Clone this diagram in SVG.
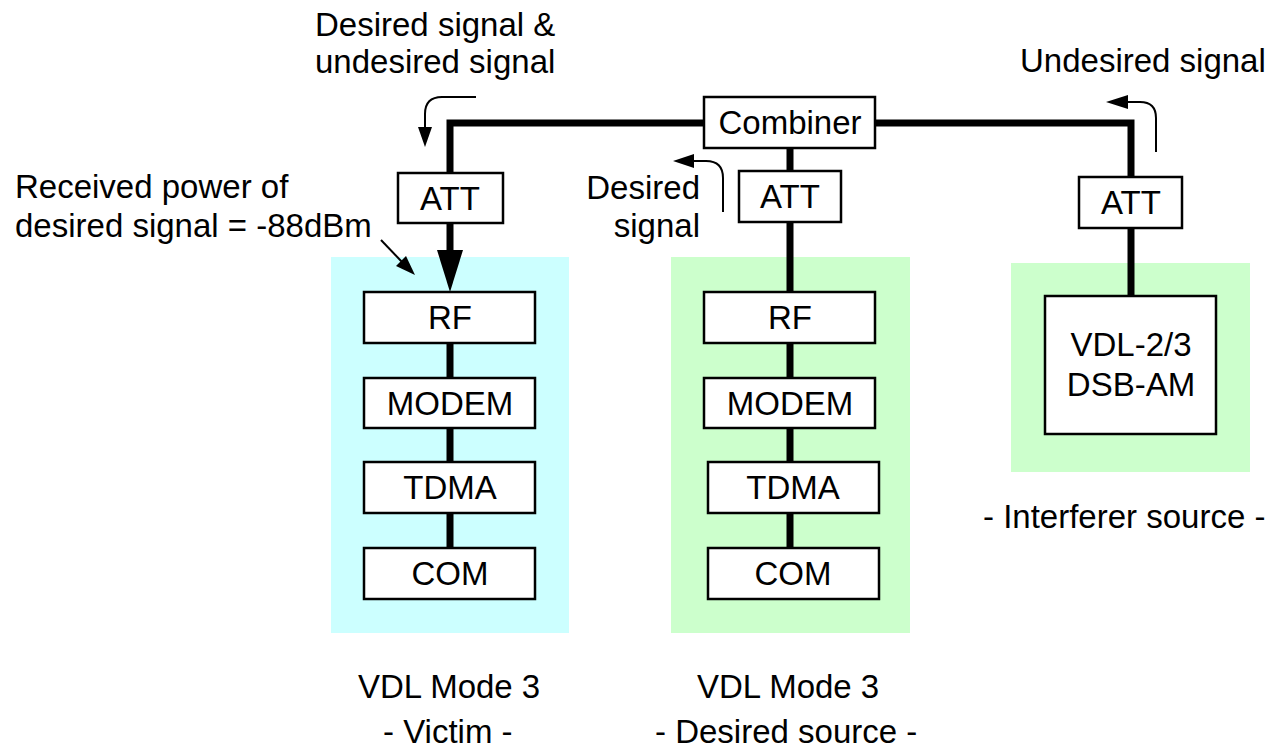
<svg xmlns="http://www.w3.org/2000/svg" width="1277" height="750" viewBox="0 0 1277 750">
<style>
text{font-family:"Liberation Sans",Arial,sans-serif;fill:#000;font-size:33px}
.box{text-anchor:middle}
.bx{fill:#fff;stroke:#000;stroke-width:2.5}
.wire{fill:none;stroke:#000;stroke-width:7;stroke-linejoin:miter}
.thin{fill:none;stroke:#000;stroke-width:2}
</style>
<rect width="1277" height="750" fill="#fff"/>
<g id="panels">
<rect x="331" y="257" width="238" height="376" fill="#CCFFFF"/>
<rect x="671" y="257" width="239" height="376" fill="#CCFFCC"/>
<rect x="1011" y="263" width="239" height="209" fill="#CCFFCC"/>
</g>
<g id="connectors">
<path class="wire" d="M450,173 V123 H1131 V177"/>
<path class="wire" d="M790,148 V292"/>
<path class="wire" d="M450,223 V252"/>
<polygon points="437,250 463,250 450,292" fill="#000"/>
<path class="wire" d="M450,343 V378 M450,428 V462 M450,513 V548"/>
<path class="wire" d="M790,343 V378 M790,428 V462 M790,513 V548"/>
<path class="wire" d="M1131,228 V296"/>
<path class="thin" d="M476,97 H442 Q425,97 425,114 V128"/>
<polygon points="418,127 432,127 425,147" fill="#000"/>
<path class="thin" d="M723,212 V178 Q723,161 706,161 H692"/>
<polygon points="694,154 694,168 673,161" fill="#000"/>
<path class="thin" d="M1156,152 V118 Q1156,102 1140,102 H1126"/>
<polygon points="1128,95 1128,109 1106,102" fill="#000"/>
<path class="thin" d="M381,240 L403,263"/>
<polygon points="396,266 406,256 415,275" fill="#000"/>
</g>
<g id="combiner"><rect class="bx" x="704" y="97" width="171" height="51"/><text class="box" x="790" y="134">Combiner</text></g>
<g id="att-victim"><rect class="bx" x="398" y="173" width="105" height="50"/><text class="box" x="450" y="210">ATT</text></g>
<g id="att-desired"><rect class="bx" x="739" y="171" width="102" height="51"/><text class="box" x="790" y="208">ATT</text></g>
<g id="att-interferer"><rect class="bx" x="1079" y="177" width="103" height="51"/><text class="box" x="1131" y="214">ATT</text></g>
<g id="victim-rf"><rect class="bx" x="364" y="292" width="171" height="51"/><text class="box" x="450" y="329">RF</text></g>
<g id="victim-modem"><rect class="bx" x="364" y="378" width="171" height="50"/><text class="box" x="450" y="415">MODEM</text></g>
<g id="victim-tdma"><rect class="bx" x="364" y="462" width="171" height="51"/><text class="box" x="450" y="499">TDMA</text></g>
<g id="victim-com"><rect class="bx" x="364" y="548" width="171" height="51"/><text class="box" x="450" y="585">COM</text></g>
<g id="desired-rf"><rect class="bx" x="704" y="292" width="171" height="51"/><text class="box" x="790" y="329">RF</text></g>
<g id="desired-modem"><rect class="bx" x="704" y="378" width="171" height="50"/><text class="box" x="790" y="415">MODEM</text></g>
<g id="desired-tdma"><rect class="bx" x="708" y="462" width="171" height="51"/><text class="box" x="793" y="499">TDMA</text></g>
<g id="desired-com"><rect class="bx" x="708" y="548" width="171" height="51"/><text class="box" x="793" y="585">COM</text></g>
<g id="interferer"><rect class="bx" x="1045" y="296" width="171" height="138"/><text class="box" x="1131" y="356">VDL-2/3</text><text class="box" x="1131" y="396">DSB-AM</text></g>
<g id="labels">
<text x="315" y="36">Desired signal &amp;</text>
<text x="315" y="73">undesired signal</text>
<text x="1020" y="72">Undesired signal</text>
<text x="15" y="198">Received power of</text>
<text x="15" y="237">desired signal = -88dBm</text>
<text x="700" y="199" text-anchor="end">Desired</text>
<text x="700" y="237" text-anchor="end">signal</text>
<text x="358" y="698">VDL Mode 3</text>
<text x="383" y="743">- Victim -</text>
<text x="697" y="698">VDL Mode 3</text>
<text x="655" y="743">- Desired source -</text>
<text x="983" y="528">- Interferer source -</text>
</g>
</svg>
